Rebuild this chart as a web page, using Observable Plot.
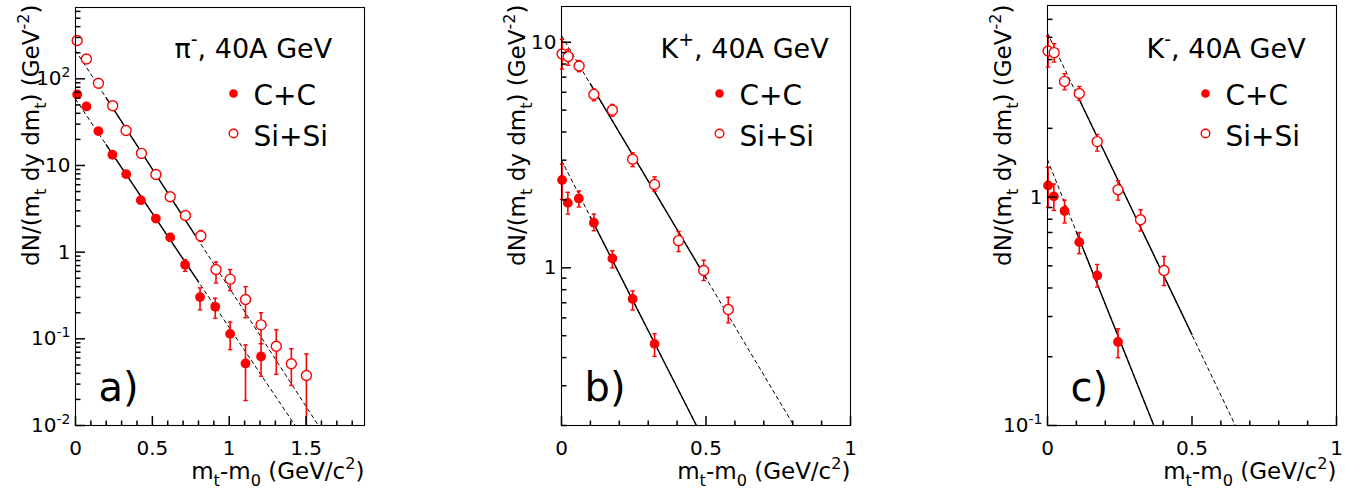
<!DOCTYPE html>
<html><head><meta charset="utf-8">
<script src="https://cdn.jsdelivr.net/npm/d3@7"></script>
<script src="https://cdn.jsdelivr.net/npm/@observablehq/plot@0.6"></script>
<style>
html,body{margin:0;padding:0;background:#fff}
#wrap{position:relative;width:1351px;height:489px;overflow:hidden;background:#fff}
#wrap svg{position:absolute;top:0}
</style>
</head><body><div id="wrap"></div>
<script>
// ---------------- Panel a: pi-, 40A GeV ----------------
const aCCx  = [0.011,0.071,0.149,0.24,0.33,0.425,0.523,0.616,0.713,0.81,0.909,1.006,1.106,1.207];
const aCCy  = [66,48,24.9,13.3,7.94,3.98,2.44,1.48,0.714,0.303,0.234,0.114,0.052,0.0625];
const aCClo = [64,46.5,24,12.8,7.6,3.8,2.3,1.34,0.60,0.216,0.173,0.075,0.0194,0.037];
const aCChi = [68,49.5,25.8,13.8,8.3,4.2,2.6,1.63,0.82,0.387,0.294,0.156,0.085,0.088];
const aSIx  = [0.011,0.071,0.149,0.242,0.329,0.429,0.523,0.616,0.715,0.815,0.914,1.006,1.106,1.207,1.306,1.404,1.502];
const aSIy  = [277,169,89,48.8,25.3,13.8,7.87,4.35,2.65,1.54,0.63,0.488,0.284,0.145,0.082,0.0515,0.0377];
const aSIlo = [268,164,86,47,24.4,13.3,7.5,4.1,2.4,1.33,0.44,0.36,0.175,0.088,0.039,0.029,0.01];
const aSIhi = [286,174,92,50.6,26.2,14.3,8.2,4.6,2.95,1.78,0.77,0.63,0.40,0.20,0.127,0.077,0.067];
const aFitCCdashX = [0,1.429],  aFitCCdashY = [58.2,0.01];
const aFitCCsolX  = [0.2,0.8],  aFitCCsolY  = [17.3,0.455];
const aFitSIdashX = [0,1.58],   aFitSIdashY = [212,0.01];
const aFitSIsolX  = [0.2,0.8],  aFitSIsolY  = [60.1,1.37];

// ---------------- Panel b: K+, 40A GeV ----------------
const bCCx  = [0.002,0.022,0.06,0.112,0.176,0.246,0.322];
const bCCy  = [2.45,1.94,2.03,1.585,1.10,0.728,0.46];
const bCClo = [2.01,1.73,1.86,1.46,1.0,0.65,0.405];
const bCChi = [2.88,2.16,2.19,1.73,1.19,0.79,0.51];
const bSIx  = [0.002,0.023,0.061,0.112,0.176,0.246,0.322,0.405,0.492,0.577];
const bSIy  = [8.87,8.64,7.85,5.87,5.0,3.03,2.34,1.32,0.973,0.653];
const bSIlo = [7.6,7.9,7.4,5.5,4.7,2.81,2.18,1.18,0.878,0.57];
const bSIhi = [10.3,9.3,8.3,6.2,5.3,3.24,2.53,1.45,1.08,0.74];
const bFitCCdashX = [0,0.467],  bFitCCdashY = [3.0,0.2];
const bFitCCsolX  = [0.1,0.467],bFitCCsolY  = [1.68,0.2];
const bFitSIdashX = [0,0.804],  bFitSIdashY = [10.7,0.2];
const bFitSIsolX  = [0.1,0.5],  bFitSIsolY  = [6.53,0.90];

// ---------------- Panel c: K-, 40A GeV ----------------
const cCCx  = [0.002,0.022,0.059,0.11,0.172,0.244];
const cCCy  = [1.125,1.007,0.869,0.635,0.454,0.232];
const cCClo = [0.904,0.874,0.77,0.565,0.404,0.198];
const cCChi = [1.35,1.14,0.97,0.70,0.507,0.265];
const cSIx  = [0.002,0.023,0.059,0.11,0.172,0.244,0.322,0.403];
const cSIy  = [4.36,4.29,3.21,2.84,1.75,1.076,0.796,0.477];
const cSIlo = [3.71,3.9,2.95,2.65,1.59,0.97,0.71,0.41];
const cSIhi = [5.06,4.7,3.47,3.05,1.88,1.18,0.88,0.55];
const cFitCCdashX = [0,0.368],  cFitCCdashY = [1.458,0.1];
const cFitCCsolX  = [0.1,0.368],cFitCCsolY  = [0.704,0.1];
const cFitSIdashX = [0,0.65],   cFitSIdashY = [5.22,0.1];
const cFitSIsolX  = [0.1,0.5],  cFitSIsolY  = [2.84,0.25];

// ---------------- tick labels & texts ----------------
const aXticks = [0,0.5,1,1.5], aXlabels = ["0","0.5","1","1.5"];
const bXticks = [0,0.5,1],     bXlabels = ["0","0.5","1"];
const cXticks = [0,0.5,1],     cXlabels = ["0","0.5","1"];
const aYticks = [0.01,0.1,1,10,100], aYlabels = ["10^{-2}","10^{-1}","1","10","10^{2}"];
const bYticks = [1,10],              bYlabels = ["1","10"];
const cYticks = [0.1,1],             cYlabels = ["10^{-1}","1"];
const titles = ["π^{-}, 40A GeV","K^{+}, 40A GeV","K^{-}, 40A GeV"];
const panelLabels = ["a)","b)","c)"];
const seriesNames = ["C+C","Si+Si"];
const xTitle = "m_{t}-m_{0} (GeV/c^{2})";
const yTitle = "dN/(m_{t} dy dm_{t}) (GeV^{-2})";

// ---------------- helpers ----------------
const RED = "#ff0000";
const FONT = "DejaVu Sans, Liberation Sans, sans-serif";
const rows = (xs, ys, lo, hi) => xs.map((x,i)=>({x, y:ys[i], lo:lo[i], hi:hi[i]}));
const pts = (xs, ys) => xs.map((x,i)=>({x, y:ys[i]}));
const L = s => Math.sqrt(s/Math.PI);
const upTick = {draw(c,s){const l=L(s); c.moveTo(0,0); c.lineTo(0,-l);}};
const rightTick = {draw(c,s){const l=L(s); c.moveTo(0,0); c.lineTo(l,0);}};
const hCap = {draw(c,s){const l=L(s); c.moveTo(-l,0); c.lineTo(l,0);}};

function linTicks(max, step){ const t=[]; for(let i=0;i*step<=max+1e-9;i++) t.push(+(i*step).toFixed(3)); return t; }
function logMinor(lo, hi){ const t=[]; for(let e=Math.floor(Math.log10(lo)); e<=Math.ceil(Math.log10(hi)); e++){ for(let k=2;k<=9;k++){ const v=k*Math.pow(10,e); if(v>=lo*0.999 && v<=hi) t.push(v);} } return t; }

function richify(svg){
  d3.select(svg).selectAll("text").each(function(){
    const s = this.textContent;
    if (!/[_^]\{/.test(s)) return;
    const el = d3.select(this); el.text(null);
    const segs=[]; const re=/([_^])\{([^}]*)\}/g; let last=0, m;
    while((m=re.exec(s))){ if(m.index>last) segs.push({t:s.slice(last,m.index),k:"n"}); segs.push({t:m[2],k:m[1]==="^"?"sup":"sub"}); last=re.lastIndex; }
    if(last<s.length) segs.push({t:s.slice(last),k:"n"});
    let cur=0;
    for(const g of segs){
      const target = g.k==="sup"?-0.42:(g.k==="sub"?0.32:0);
      const d = target-cur;
      const ts = el.append("tspan").text(g.t);
      if(g.k==="n"){ if(d) ts.attr("dy", d+"em"); }
      else { ts.attr("font-size","70%"); if(d) ts.attr("dy", (d/0.7)+"em"); }
      cur = target;
    }
  });
}

function panel(o){
  const top = o.top;
  const cc = rows(o.cc[0],o.cc[1],o.cc[2],o.cc[3]);
  const si = rows(o.si[0],o.si[1],o.si[2],o.si[3]);
  const xMinor = linTicks(o.xDomain[1], 0.1).filter(v=>Math.abs(v/0.5-Math.round(v/0.5))>1e-6);
  const xMajor = linTicks(o.xDomain[1], 0.5);
  const yMinor = logMinor(o.yDomain[0], o.yDomain[1]);
  const yMajor = o.yTicks;
  const fitLine = (X,Y,dash)=>Plot.line(pts(X,Y),{x:"x",y:"y",stroke:"black",strokeWidth:dash?1:1.4,strokeDasharray:dash?"3.5,3.5":null});
  const svg = Plot.plot({
    width: 379, height: 489,
    marginLeft: 75, marginRight: 15, marginTop: top, marginBottom: 64,
    x: {domain: o.xDomain, axis: null},
    y: {type: "log", domain: o.yDomain, axis: null},
    style: {fontFamily: FONT, background: "white", color: "black"},
    marks: [
      fitLine(o.fits[0],o.fits[1],true),
      fitLine(o.fits[4],o.fits[5],true),
      fitLine(o.fits[2],o.fits[3],false),
      fitLine(o.fits[6],o.fits[7],false),
      Plot.ruleX(cc,{x:"x",y1:"lo",y2:"hi",stroke:RED,strokeWidth:1.6}),
      Plot.ruleX(si,{x:"x",y1:"lo",y2:"hi",stroke:RED,strokeWidth:1.6}),
      Plot.dot(cc.concat(si).filter(d=>d.lo>o.yDomain[0]),{x:"x",y:"lo",symbol:hCap,r:2.2,stroke:RED,fill:"none",strokeWidth:1.4}),
      Plot.dot(cc.concat(si),{x:"x",y:"hi",symbol:hCap,r:2.2,stroke:RED,fill:"none",strokeWidth:1.4}),
      Plot.dot(si,{x:"x",y:"y",r:5,stroke:RED,fill:"white",strokeWidth:1.4}),
      Plot.dot(cc,{x:"x",y:"y",r:4.9,fill:RED,stroke:"none"}),
      Plot.frame({stroke:"black",strokeWidth:1.1}),
      Plot.dot(xMinor,{x:d=>d,frameAnchor:"bottom",symbol:upTick,r:5,stroke:"black",fill:"none"}),
      Plot.dot(xMajor,{x:d=>d,frameAnchor:"bottom",symbol:upTick,r:9.5,stroke:"black",fill:"none"}),
      Plot.dot(yMinor,{y:d=>d,frameAnchor:"left",symbol:rightTick,r:5,stroke:"black",fill:"none"}),
      Plot.dot(yMajor,{y:d=>d,frameAnchor:"left",symbol:rightTick,r:9.5,stroke:"black",fill:"none"}),
      Plot.text(o.xTicks,{x:d=>d,text:(d,i)=>o.xLabels[i],frameAnchor:"bottom",lineAnchor:"top",dy:15,fontSize:20,fill:"black"}),
      Plot.text(o.yTicks,{y:d=>d,text:(d,i)=>o.yLabels[i],frameAnchor:"left",textAnchor:"end",lineAnchor:"middle",dx:-5,fontSize:20,fill:"black"}),
      Plot.text([xTitle],{text:d=>d,frameAnchor:"bottom-right",textAnchor:"end",lineAnchor:"bottom",dy:53,fontSize:23,fill:"black"}),
      Plot.text([yTitle],{text:d=>d,frameAnchor:"top-left",textAnchor:"end",lineAnchor:"bottom",rotate:-90,dx:-37,dy:4-top,fontSize:23,fill:"black"}),
      Plot.text([o.title],{text:d=>d,frameAnchor:"top-left",textAnchor:"start",lineAnchor:"bottom",dx:99,dy:57-top,fontSize:27,fill:"black"}),
      Plot.dot([seriesNames[0]],{frameAnchor:"top-left",dx:158,dy:93-top,r:4.3,fill:RED,stroke:"none"}),
      Plot.dot([seriesNames[1]],{frameAnchor:"top-left",dx:158,dy:133-top,r:4.3,fill:"white",stroke:RED,strokeWidth:1.4}),
      Plot.text([seriesNames[0]],{text:d=>d,frameAnchor:"top-left",textAnchor:"start",lineAnchor:"bottom",dx:178,dy:104-top,fontSize:28,fill:"black"}),
      Plot.text([seriesNames[1]],{text:d=>d,frameAnchor:"top-left",textAnchor:"start",lineAnchor:"bottom",dx:178,dy:145-top,fontSize:28,fill:"black"}),
      Plot.text([o.label],{text:d=>d,frameAnchor:"top-left",textAnchor:"start",lineAnchor:"bottom",dx:23,dy:400-top,fontSize:40,fill:"black"})
    ]
  });
  richify(svg);
  return svg;
}

const wrap = document.getElementById("wrap");
const specs = [
  {left:0, top:7, xDomain:[0,1.88], yDomain:[0.01,665], cc:[aCCx,aCCy,aCClo,aCChi], si:[aSIx,aSIy,aSIlo,aSIhi],
   fits:[aFitCCdashX,aFitCCdashY,aFitCCsolX,aFitCCsolY,aFitSIdashX,aFitSIdashY,aFitSIsolX,aFitSIsolY],
   xTicks:aXticks,xLabels:aXlabels,yTicks:aYticks,yLabels:aYlabels,title:titles[0],label:panelLabels[0]},
  {left:486, top:6, xDomain:[0,1], yDomain:[0.2,14.4], cc:[bCCx,bCCy,bCClo,bCChi], si:[bSIx,bSIy,bSIlo,bSIhi],
   fits:[bFitCCdashX,bFitCCdashY,bFitCCsolX,bFitCCsolY,bFitSIdashX,bFitSIdashY,bFitSIsolX,bFitSIsolY],
   xTicks:bXticks,xLabels:bXlabels,yTicks:bYticks,yLabels:bYlabels,title:titles[1],label:panelLabels[1]},
  {left:972, top:5, xDomain:[0,1], yDomain:[0.1,6.9], cc:[cCCx,cCCy,cCClo,cCChi], si:[cSIx,cSIy,cSIlo,cSIhi],
   fits:[cFitCCdashX,cFitCCdashY,cFitCCsolX,cFitCCsolY,cFitSIdashX,cFitSIdashY,cFitSIsolX,cFitSIsolY],
   xTicks:cXticks,xLabels:cXlabels,yTicks:cYticks,yLabels:cYlabels,title:titles[2],label:panelLabels[2]}
];
for(const s of specs){ const svg = panel(s); svg.style.left = s.left+"px"; wrap.appendChild(svg); }
</script></body></html>
